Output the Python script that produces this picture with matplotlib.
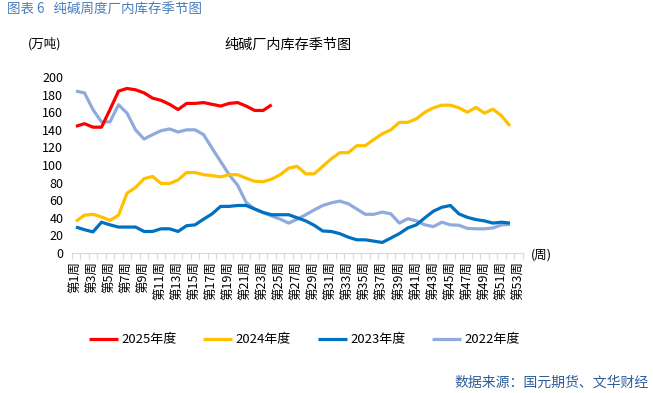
import numpy as np
import matplotlib
matplotlib.use("Agg")
import matplotlib.pyplot as plt

plt.rcParams["font.family"] = ["Noto Sans CJK SC", "DejaVu Sans"]

# 周次 1..53, 每两周标一次
weeks = np.arange(1, 54)
week_labels = ["第%d周" % w if w % 2 == 1 else "" for w in weeks]

# 2025年度 (到第24周)
y2025 = [144, 147, 143, 143, 163, 184, 187, 185.5, 182, 176, 173.5, 169, 163,
         170, 170, 171, 169, 167, 170, 171, 167, 162, 162, 168.5]

# 2024年度 (52周)
y2024 = [36, 43, 44, 41, 37, 43, 68, 74.5, 84.5, 87, 79, 79, 83, 91.5, 91.5,
         89, 88, 86.5, 89, 89, 85, 81.5, 81, 84, 89, 96.5, 98.5, 90, 90, 98.5,
         107, 114, 114, 122, 122, 129, 135.5, 140, 148.5, 148.5, 152.5, 160,
         165, 168, 168, 165, 160, 165.5, 159, 163.5, 156, 144.5]

# 2023年度
y2023 = [29.5, 26.5, 24, 35, 32, 29.5, 29.5, 29.5, 24.5, 24.5, 27.5, 27.5,
         24.5, 31, 32, 38.5, 44.5, 53, 53, 54, 54, 50, 46, 43.5, 43.5, 43.5,
         40, 36.5, 31.5, 25, 24.5, 22, 18, 15, 15, 13.5, 12, 17, 22, 28.5, 32,
         40, 47.5, 52, 54, 44.5, 40.5, 38, 36.5, 34, 35, 34]

# 2022年度
y2022 = [184, 182, 163, 149, 149, 168.5, 159, 140, 129.5, 134.5, 139, 141,
         137.5, 140, 140, 134.5, 119, 104, 89, 77, 57.5, 50, 46, 42, 38.5, 34,
         38.5, 43.5, 49, 54, 57, 59, 56, 50, 44, 44, 46.5, 44.5, 34, 39, 36.5,
         32, 30, 35, 32, 31.5, 28, 27.5, 27.5, 28.5, 32, 32.5]

series = [("2025年度", y2025, "#FF0000"),
          ("2024年度", y2024, "#FFC000"),
          ("2023年度", y2023, "#0070C0"),
          ("2022年度", y2022, "#8FAADC")]

fig = plt.figure(figsize=(6.53, 3.93), dpi=100)
ax = fig.add_axes([0.1098, 0.3562, 0.6907, 0.4478])

# 先画旧年份, 新年份在上层
handles = {}
for name, vals, col in reversed(series):
    ln, = ax.plot(weeks[:len(vals)], vals, color=col, lw=2.3, label=name,
                  solid_capstyle="butt", solid_joinstyle="round")
    handles[name] = ln

ax.set_xlim(0.5, 53.5)
ax.set_ylim(0, 200)
ax.set_yticks(range(0, 201, 20))
ax.tick_params(axis="y", length=0, labelsize=9, pad=6)

ax.set_xticks(np.arange(0.5, 54, 1))
ax.set_xticklabels([])
ax.set_xticks(weeks, minor=True)
ax.set_xticklabels(week_labels, minor=True, rotation=90, fontsize=9,
                   va="top", ha="center")
ax.tick_params(axis="x", which="major", length=4, color="#D9D9D9", width=0.8)
ax.tick_params(axis="x", which="minor", length=0, pad=6)

for s in ["top", "right", "left"]:
    ax.spines[s].set_visible(False)
ax.spines["bottom"].set_color("#D9D9D9")

fig.text(0.010, 0.975, "图表 6   纯碱周度厂内库存季节图", color="#4A7EBB",
         fontsize=9.7, va="center", ha="left")
fig.text(0.441, 0.885, "纯碱厂内库存季节图", fontsize=10.2, ha="center", va="center")
fig.text(0.068, 0.888, "(万吨)", fontsize=9, ha="center", va="center")
fig.text(0.829, 0.351, "(周)", fontsize=9, ha="center", va="center")
fig.text(0.993, 0.025, "数据来源：国元期货、文华财经", color="#2E5C9A",
         fontsize=10, ha="right", va="center")

# 图例, 每项单独放置
leg_x = [89, 203, 318, 432]
for (name, vals, col), x0 in zip(series, leg_x):
    lg = fig.legend([handles[name]], [name], loc="center left",
                    bbox_to_anchor=(x0 / 653, 0.135), frameon=False,
                    fontsize=9.4, handlelength=2.2, handletextpad=0.25,
                    borderpad=0, borderaxespad=0)

fig.savefig("out.png", dpi=100)
